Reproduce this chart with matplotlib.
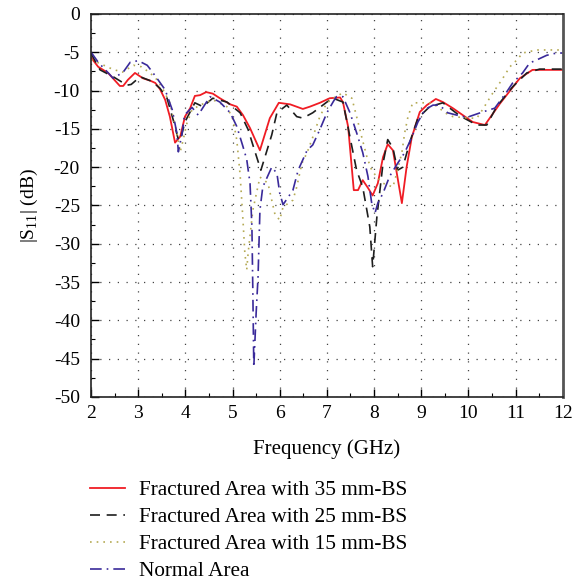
import numpy as np
import matplotlib
matplotlib.use("Agg")
import matplotlib.pyplot as plt
from matplotlib.ticker import MultipleLocator

plt.rcParams['font.family'] = ['Liberation Serif', 'DejaVu Serif']
plt.rcParams['mathtext.fontset'] = 'custom'
plt.rcParams['mathtext.rm'] = 'Liberation Serif'
plt.rcParams['axes.unicode_minus'] = False

# Fractured area with 35 mm-BS
f_35 = [2.0, 2.15, 2.36, 2.61, 2.68, 2.78, 2.93, 3.1, 3.25, 3.36, 3.46, 3.57, 3.67, 3.78, 3.89,
        3.99, 4.1, 4.2, 4.31, 4.44, 4.58, 4.73, 4.95, 5.09, 5.22, 5.37, 5.58, 5.79, 5.98, 6.22,
        6.49, 6.64, 6.85, 7.06, 7.28, 7.34, 7.45, 7.57, 7.66, 7.76, 7.87, 7.97, 8.08, 8.19, 8.29,
        8.4, 8.59, 8.69, 8.8, 8.97, 9.12, 9.31, 9.46, 9.67, 10.09, 10.35, 10.67, 11.09, 11.36, 12.0]
s_35 = [-5.7, -6.9, -7.7, -9.4, -9.4, -8.6, -7.7, -8.4, -8.7, -9.0, -9.8, -11.2, -13.4, -16.8, -16.0,
        -13.4, -12.3, -10.7, -10.6, -10.2, -10.4, -11.0, -11.8, -12.1, -13.2, -14.9, -17.8, -13.6, -11.6, -11.8,
        -12.4, -12.1, -11.6, -11.0, -10.9, -11.5, -14.7, -23.0, -23.0, -21.7, -22.7, -23.7, -22.1, -18.7, -17.0,
        -17.8, -24.7, -20.0, -16.1, -12.8, -11.9, -11.1, -11.5, -12.3, -14.1, -14.5, -11.7, -8.4, -7.3, -7.3]

# Fractured area with 25 mm-BS
f_25 = [2.0, 2.19, 2.47, 2.76, 2.85, 3.04, 3.29, 3.46, 3.61, 3.74, 3.85, 3.89, 3.99, 4.2, 4.37,
        4.58, 4.88, 5.16, 5.33, 5.43, 5.6, 5.73, 5.83, 5.94, 6.15, 6.36, 6.49, 6.7, 7.0, 7.13,
        7.34, 7.49, 7.63, 7.76, 7.91, 7.97, 8.06, 8.19, 8.29, 8.4, 8.5, 8.61, 8.76, 8.93, 9.18,
        9.46, 9.82, 10.18, 10.39, 10.6, 10.94, 11.24, 11.51, 12.0]
s_25 = [-5.2, -7.3, -8.2, -9.3, -9.2, -8.2, -8.8, -9.7, -11.0, -13.8, -16.4, -16.5, -14.1, -11.6, -12.1,
        -11.0, -11.5, -12.9, -15.1, -17.1, -20.4, -17.8, -15.8, -12.9, -11.9, -13.4, -13.6, -12.9, -11.5, -11.0,
        -11.5, -16.1, -20.4, -22.6, -27.8, -33.0, -26.5, -19.5, -16.4, -17.5, -20.4, -20.0, -16.7, -13.6, -12.1,
        -11.6, -13.3, -14.5, -14.5, -12.1, -9.5, -7.7, -7.2, -7.2]

# Fractured area with 15 mm-BS
f_15 = [2.0, 2.2, 2.45, 2.66, 2.9, 3.07, 3.25, 3.4, 3.53, 3.67, 3.82, 3.89, 3.95, 4.03, 4.14,
        4.31, 4.58, 4.88, 5.01, 5.09, 5.16, 5.22, 5.26, 5.3, 5.33, 5.43, 5.58, 5.75, 5.83, 5.9,
        6.0, 6.07, 6.28, 6.36, 6.47, 6.58, 6.7, 6.85, 7.0, 7.13, 7.34, 7.53, 7.63, 7.74, 7.85,
        7.95, 8.06, 8.19, 8.4, 8.48, 8.59, 8.65, 8.72, 8.82, 9.01, 9.18, 9.35, 9.5, 9.67, 10.03,
        10.18, 10.3, 10.52, 10.71, 10.88, 11.03, 11.15, 11.45, 12.0]
s_15 = [-6.0, -6.5, -7.2, -7.6, -6.7, -6.9, -7.7, -8.6, -9.9, -11.6, -15.6, -18.0, -16.5, -14.3, -12.5,
        -11.9, -11.2, -12.1, -13.8, -16.5, -21.0, -26.9, -31.2, -33.4, -31.2, -25.6, -21.3, -22.1, -24.3, -26.2,
        -26.9, -25.2, -24.3, -22.6, -19.5, -18.1, -16.1, -13.4, -11.6, -11.0, -10.3, -11.0, -13.4, -16.1, -18.7,
        -20.4, -21.3, -22.1, -22.6, -20.8, -18.1, -15.5, -13.4, -11.6, -11.6, -11.6, -12.1, -12.9, -13.4, -13.6,
        -13.6, -12.5, -10.3, -8.6, -6.9, -6.0, -5.1, -4.7, -4.7]

# Normal area
f_n = [2.0, 2.15, 2.47, 2.68, 2.83, 3.0, 3.19, 3.29, 3.42, 3.57, 3.72, 3.82, 3.85, 3.93, 3.98,
       4.14, 4.27, 4.52, 4.73, 4.95, 5.09, 5.22, 5.3, 5.37, 5.41, 5.43, 5.45, 5.5, 5.54, 5.58,
       5.64, 5.83, 5.94, 6.0, 6.07, 6.17, 6.28, 6.39, 6.58, 6.7, 6.85, 7.0, 7.13, 7.2, 7.34,
       7.49, 7.63, 7.76, 7.87, 7.95, 8.02, 8.08, 8.19, 8.33, 8.5, 8.65, 8.8, 8.93, 9.08, 9.25,
       9.39, 9.56, 9.75, 9.97, 10.3, 10.56, 10.81, 10.94, 11.15, 11.3, 11.45, 11.66, 11.87, 12.0]
s_n = [-5.0, -6.3, -8.4, -7.6, -6.3, -6.1, -6.7, -7.5, -8.6, -9.9, -12.5, -15.6, -18.0, -15.6, -13.2,
       -12.2, -13.2, -10.8, -11.5, -12.9, -14.7, -17.3, -19.0, -22.1, -27.8, -36.4, -46.1, -39.0, -34.3, -25.6,
       -22.6, -20.0, -20.8, -23.4, -24.9, -24.0, -23.0, -20.4, -17.8, -17.1, -15.1, -12.9, -11.5, -10.8, -10.8,
       -12.9, -15.5, -18.1, -21.2, -24.7, -26.0, -24.7, -23.4, -21.2, -19.5, -18.1, -16.1, -14.1, -12.5, -11.9,
       -11.9, -12.9, -13.2, -13.5, -12.8, -12.3, -10.2, -9.0, -7.7, -6.4, -6.0, -5.4, -5.1, -5.1]

labels = ["Fractured Area with 35 mm-BS", "Fractured Area with 25 mm-BS",
          "Fractured Area with 15 mm-BS", "Normal Area"]

fig = plt.figure(figsize=(5.73, 5.82), dpi=100)
ax = fig.add_axes([0.159, 0.318, 0.823, 0.658])

ax.plot(f_35, s_35, color='#f01c24', lw=1.3, label=labels[0])
ax.plot(f_25, s_25, color='#1e1e1e', lw=1.2, linestyle=(0, (6, 4)), label=labels[1])
ax.plot(f_15, s_15, color='#b5aa55', lw=1.2, linestyle=(0, (1, 3)), label=labels[2])
ax.plot(f_n, s_n, color='#3a2a9a', lw=1.2, linestyle=(0, (7, 3, 1, 3)), label=labels[3])

ax.set_xlim(2, 12)
ax.set_ylim(-50, 0)
ax.xaxis.set_major_locator(MultipleLocator(1))
ax.xaxis.set_minor_locator(MultipleLocator(0.5))
ax.yaxis.set_major_locator(MultipleLocator(5))
ax.yaxis.set_minor_locator(MultipleLocator(2.5))
ax.tick_params(which='both', direction='in', labelsize=14, top=False, right=False)
ax.tick_params(which='major', length=6, width=1.0)
ax.tick_params(which='minor', length=3, width=0.8)
ax.tick_params(axis='x', which='major', pad=6)
ax.tick_params(axis='y', which='major', pad=8)
ax.grid(True, which='major', color='#444444', linestyle=(0, (1, 6)), linewidth=0.9)
for sp in ax.spines.values():
    sp.set_linewidth(1.2)
    sp.set_color('#222222')
ax.spines['right'].set_linewidth(2.0)
ax.spines['right'].set_color('#555555')

ax.set_xlabel("Frequency (GHz)", fontsize=15, labelpad=12)
ax.set_ylabel("|S$_{11}$| (dB)", fontsize=14, labelpad=10)

fig.legend(loc='upper left', bbox_to_anchor=(0.142, 0.189), frameon=False, fontsize=15.3,
           handlelength=1.65, handletextpad=0.66, labelspacing=0.33, borderaxespad=0)

fig.savefig("out.png", dpi=100)
